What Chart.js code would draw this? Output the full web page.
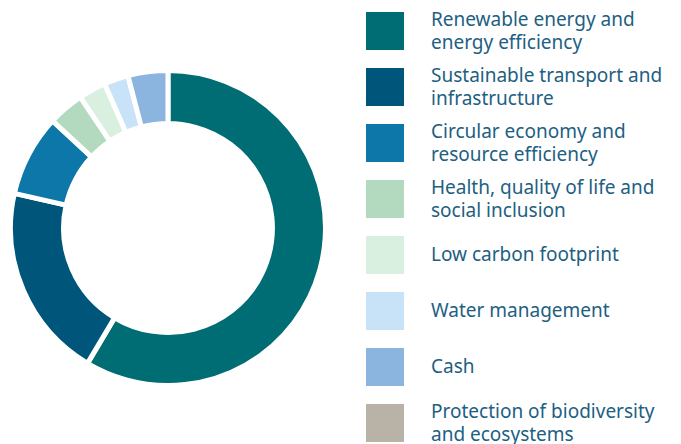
<!DOCTYPE html>
<html>
<head>
<meta charset="utf-8">
<script src="https://cdn.jsdelivr.net/npm/chart.js@4"></script>
<style>
  html, body { margin: 0; padding: 0; background: #ffffff; }
  body { width: 681px; height: 444px; position: relative; overflow: hidden; font-family: "Noto Sans", sans-serif; }
  #chartBox { position: absolute; left: 8px; top: 68px; width: 320px; height: 320px; }
  #legend { position: absolute; left: 366px; top: 12px; }
  .row { position: relative; height: 56px; display: flex; align-items: flex-start; }
  .sw { width: 38px; height: 38px; flex: 0 0 38px; }
  .lbl { position: absolute; left: 65px; top: 0; height: 38px; display: flex; flex-direction: column; justify-content: center; color: #1d6082; font-size: 19px; line-height: 23.5px; white-space: nowrap; }
</style>
</head>
<body>
<div id="chartBox"><canvas id="c"></canvas></div>
<div id="legend"></div>
<script>
const categories = [
  ["Renewable energy and", "energy efficiency"],
  ["Sustainable transport and", "infrastructure"],
  ["Circular economy and", "resource efficiency"],
  ["Health, quality of life and", "social inclusion"],
  ["Low carbon footprint"],
  ["Water management"],
  ["Cash"],
  ["Protection of biodiversity", "and ecosystems"]
];
const values = [58.6, 20.0, 8.4, 3.7, 2.8, 2.5, 4.1, 0];
const colors = ["#006c73", "#00557a", "#0c77a8", "#b3d9be", "#d9efe0", "#c8e2f8", "#8bb4df", "#b9b2a6"];

const legend = document.getElementById('legend');
categories.forEach((lines, i) => {
  const row = document.createElement('div');
  row.className = 'row';
  const sw = document.createElement('div');
  sw.className = 'sw';
  sw.style.background = colors[i];
  const lbl = document.createElement('div');
  lbl.className = 'lbl';
  lines.forEach(t => { const s = document.createElement('div'); s.textContent = t; lbl.appendChild(s); });
  row.appendChild(sw);
  row.appendChild(lbl);
  legend.appendChild(row);
});

new Chart(document.getElementById('c'), {
  type: 'doughnut',
  data: {
    labels: categories.map(l => l.join(' ')),
    datasets: [{
      data: values,
      backgroundColor: colors,
      borderColor: '#ffffff',
      borderWidth: 5
    }]
  },
  options: {
    responsive: true,
    maintainAspectRatio: false,
    animation: false,
    cutout: '66.3%',
    layout: { padding: 0 },
    plugins: { legend: { display: false }, tooltip: { enabled: false } }
  }
});
</script>
</body>
</html>
